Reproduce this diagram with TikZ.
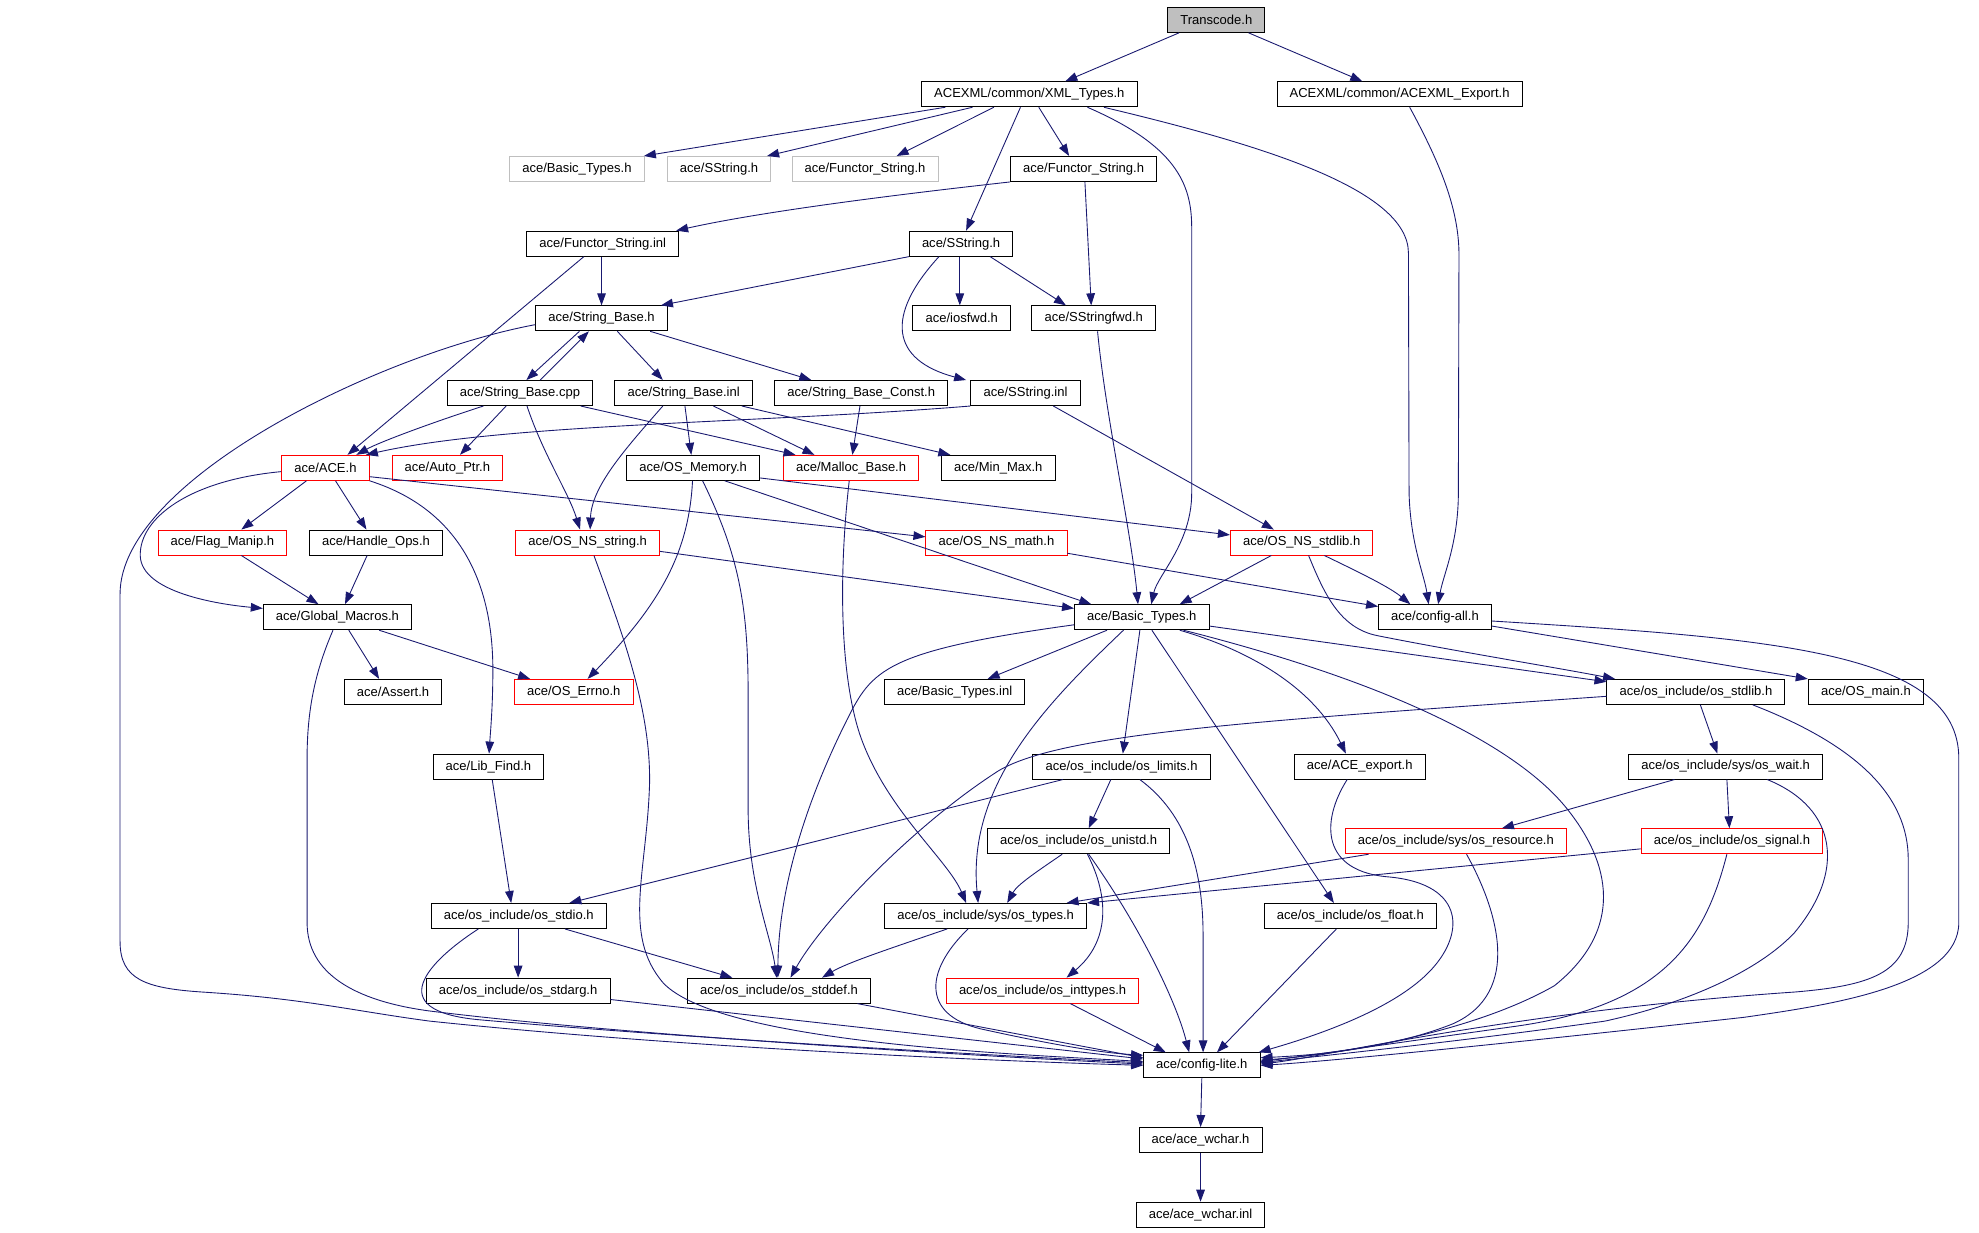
\documentclass[tikz,border=0pt]{standalone}
\usepackage{fontspec}
\setmainfont{Liberation Sans}
\usetikzlibrary{arrows.meta}
\definecolor{edgeblue}{RGB}{25,25,112}
\definecolor{graybox}{RGB}{191,191,191}
\begin{document}
\begin{tikzpicture}[x=1pt,y=-1pt,
  box/.style={draw=black,line width=0.75pt,minimum height=19.8pt,inner xsep=10pt,inner ysep=0pt,font=\fontsize{10.3}{12}\selectfont,fill=white},
  redbox/.style={box,draw=red},
  ghost/.style={box,draw=graybox},
  root/.style={box,fill=graybox},
  dep/.style={draw=edgeblue,line width=0.7pt,-{Triangle[length=9.5pt,width=6.8pt]}}]
\path[fill=white] (0,0) rectangle (1566,975);
\useasboundingbox (0,0) rectangle (1566,975);
% row 0
\node[root] (tr) at (962.5,15.7) {Transcode.h};
% row 1
\node[box] (xml) at (814.5,74.6) {ACEXML/common/XML\_Types.h};
\node[box] (exp) at (1107.5,74.6) {ACEXML/common/ACEXML\_Export.h};
% row 2
\node[ghost] (gbt) at (456.5,133.7) {ace/Basic\_Types.h};
\node[ghost] (gss) at (569,133.7) {ace/SString.h};
\node[ghost] (gfs) at (684.5,133.7) {ace/Functor\_String.h};
\node[box] (fs) at (857.5,133.7) {ace/Functor\_String.h};
% row 3
\node[box] (fsi) at (477,192.8) {ace/Functor\_String.inl};
\node[box] (ss) at (760.5,192.8) {ace/SString.h};
% row 4
\node[box] (sb) at (476,251.9) {ace/String\_Base.h};
\node[box] (iosfwd) at (761,251.9) {ace/iosfwd.h};
\node[box] (ssfwd) at (865.5,251.9) {ace/SStringfwd.h};
% row 5
\node[box] (sbcpp) at (411.5,311) {ace/String\_Base.cpp};
\node[box] (sbinl) at (541,311) {ace/String\_Base.inl};
\node[box] (sbc) at (681.5,311) {ace/String\_Base\_Const.h};
\node[box] (ssinl) at (811.5,311) {ace/SString.inl};
% row 6
\node[redbox] (ace) at (257.5,370.2) {ace/ACE.h};
\node[redbox] (ap) at (354,370.2) {ace/Auto\_Ptr.h};
\node[box] (osm) at (548.5,370.2) {ace/OS\_Memory.h};
\node[redbox] (mb) at (673.5,370.2) {ace/Malloc\_Base.h};
\node[box] (mm) at (790,370.2) {ace/Min\_Max.h};
% row 7
\node[redbox] (fm) at (176,429.3) {ace/Flag\_Manip.h};
\node[box] (ho) at (297.5,429.3) {ace/Handle\_Ops.h};
\node[redbox] (nsstr) at (465,429.3) {ace/OS\_NS\_string.h};
\node[redbox] (nsmath) at (788.5,429.3) {ace/OS\_NS\_math.h};
\node[redbox] (nsstdlib) at (1030,429.3) {ace/OS\_NS\_stdlib.h};
% row 8
\node[box] (gm) at (267,488.4) {ace/Global\_Macros.h};
\node[box] (bt) at (903.5,488.4) {ace/Basic\_Types.h};
\node[box] (ca) at (1135.5,488.4) {ace/config-all.h};
% row 9
\node[box] (as) at (311,547.5) {ace/Assert.h};
\node[redbox] (errno) at (454,547.5) {ace/OS\_Errno.h};
\node[box] (bti) at (755.5,547.5) {ace/Basic\_Types.inl};
\node[box] (stdlib) at (1342,547.5) {ace/os\_include/os\_stdlib.h};
\node[box] (main) at (1476.5,547.5) {ace/OS\_main.h};
% row 10
\node[box] (lf) at (386.5,606.6) {ace/Lib\_Find.h};
\node[box] (lim) at (887.5,606.6) {ace/os\_include/os\_limits.h};
\node[box] (aexp) at (1076,606.6) {ace/ACE\_export.h};
\node[box] (wait) at (1365.5,606.6) {ace/os\_include/sys/os\_wait.h};
% row 11
\node[box] (unistd) at (853.5,665.7) {ace/os\_include/os\_unistd.h};
\node[redbox] (res) at (1152,665.7) {ace/os\_include/sys/os\_resource.h};
\node[redbox] (sig) at (1370.5,665.7) {ace/os\_include/os\_signal.h};
% row 12
\node[box] (stdio) at (410.5,724.8) {ace/os\_include/os\_stdio.h};
\node[box] (types) at (780,724.8) {ace/os\_include/sys/os\_types.h};
\node[box] (float) at (1068.5,724.8) {ace/os\_include/os\_float.h};
% row 13
\node[box] (stdarg) at (410,783.9) {ace/os\_include/os\_stdarg.h};
\node[box] (stddef) at (616.5,783.9) {ace/os\_include/os\_stddef.h};
\node[redbox] (intt) at (825,783.9) {ace/os\_include/os\_inttypes.h};
% row 14-16
\node[box] (cl) at (951,843) {ace/config-lite.h};
\node[box] (wc) at (950,902.1) {ace/ace\_wchar.h};
\node[box] (wci) at (950,961.2) {ace/ace\_wchar.inl};

% ---- edges ----
\draw[dep] ([xshift=-29.5]tr.south) -- ([xshift=28.5]xml.north);
\draw[dep] ([xshift=25.5]tr.south) -- ([xshift=-29.5]exp.north);
\draw[dep] ([xshift=-66.5]xml.south) -- ([xshift=53]gbt.north);
\draw[dep] ([xshift=-45]xml.south) -- ([xshift=38]gss.north);
\draw[dep] ([xshift=-28]xml.south) -- ([xshift=25]gfs.north);
\draw[dep] ([xshift=7.5]xml.south) -- ([xshift=-11.5]fs.north);
\draw[dep] ([xshift=-7]xml.south) -- ([xshift=4]ss.north);
\draw[dep] ([xshift=46]xml.south) .. controls (930,115) and (943,145) .. (943,180) -- (943,390) .. controls (943,430) and (916,455) .. ([xshift=7.5]bt.north);
\draw[dep] ([xshift=59]xml.south) .. controls (1000,115) and (1114,150) .. (1114.5,200) -- (1115,390) .. controls (1116,430) and (1127,455) .. ([xshift=-5]ca.north);
\draw[dep] ([xshift=8]exp.south) .. controls (1140,130) and (1154,165) .. (1154.5,200) -- (1154,390) .. controls (1154,430) and (1142,455) .. ([xshift=2.5]ca.north);
\draw[dep] (fs.south west) .. controls (700,155) and (600,168) .. ([xshift=58]fsi.north);
\draw[dep] ([xshift=1]fs.south) -- ([xshift=-2]ssfwd.north);
\draw[dep] (ss.south west) -- ([xshift=47]sb.north);
\draw[dep] ([xshift=-1]ss.south) -- ([xshift=-1.5]iosfwd.north);
\draw[dep] ([xshift=23]ss.south) -- ([xshift=-22]ssfwd.north);
\draw[dep] ([xshift=-17.5]ss.south) .. controls (700,250) and (705,285) .. ([xshift=-47]ssinl.north);
\draw[dep] ([xshift=-1]fsi.south) -- (sb.north);
\draw[dep] ([xshift=-15]fsi.south) -- ([xshift=17.5]ace.north);
\draw[dep] ([xshift=-17.5]sb.south) -- ([xshift=5]sbcpp.north);
\draw[dep] ([xshift=16]sbcpp.north) -- ([xshift=-10]sb.south);
\draw[dep] ([xshift=12.5]sb.south) -- ([xshift=-16.5]sbinl.north);
\draw[dep] ([xshift=38.5]sb.south) -- ([xshift=-39.5]sbc.north);
\draw[dep] ([yshift=-5]sb.west) .. controls (300,280) and (95,380) .. (95,470) -- (95,745) .. controls (95,775) and (115,782) .. (160,785) .. controls (240,790) and (280,800) .. (340,808) .. controls (550,830) and (800,840) .. (cl.west);
\draw[dep] ([xshift=-29]sbcpp.south) .. controls (340,335) and (300,350) .. ([xshift=24.5]ace.north);
\draw[dep] ([xshift=-11]sbcpp.south) -- ([xshift=10]ap.north);
\draw[dep] ([xshift=5.5]sbcpp.south) .. controls (430,360) and (450,390) .. ([xshift=-6]nsstr.north);
\draw[dep] ([xshift=48]sbcpp.south) -- ([xshift=-44]mb.north);
\draw[dep] ([xshift=-16.5]sbinl.south) .. controls (495,355) and (468,385) .. ([xshift=2]nsstr.north);
\draw[dep] ([xshift=1]sbinl.south) -- ([xshift=-1.5]osm.north);
\draw[dep] ([xshift=23.5]sbinl.south) -- ([xshift=-29]mb.north);
\draw[dep] ([xshift=46]sbinl.south) -- ([xshift=-38]mm.north);
\draw[dep] ([xshift=-1]sbc.south) -- ([xshift=1]mb.north);
\draw[dep] (ssinl.south west) .. controls (600,335) and (400,335) .. ([xshift=32]ace.north);
\draw[dep] ([xshift=22]ssinl.south) -- ([xshift=-22]nsstdlib.north);
\draw[dep] ([yshift=-3]ace.west) .. controls (150,380) and (110,410) .. (111,440) .. controls (112,468) and (170,478) .. ([yshift=7]gm.west);
\draw[dep] ([xshift=-15]ace.south) -- ([xshift=15]fm.north);
\draw[dep] ([xshift=8]ace.south) -- ([xshift=-7.5]ho.north);
\draw[dep] (ace.south east) .. controls (370,405) and (390,470) .. (390,530) .. controls (390,560) and (388,580) .. ([xshift=0.5]lf.north);
\draw[dep] ([yshift=-7]ace.east) -- ([yshift=4.5]nsmath.west);
\draw[dep] ([xshift=15]fm.south) -- ([xshift=-15]gm.north);
\draw[dep] ([xshift=-7]ho.south) -- ([xshift=6]gm.north);
\draw[dep] ([xshift=-0.5]osm.south) .. controls (545,440) and (520,480) .. ([xshift=11]errno.north);
\draw[dep] ([xshift=7.5]osm.south) .. controls (585,440) and (592,480) .. (592,550) -- (592,640) .. controls (592,700) and (610,740) .. ([xshift=-2]stddef.north);
\draw[dep] ([xshift=25]osm.south) -- ([xshift=-40]bt.north);
\draw[dep] ([yshift=-8]osm.east) -- ([yshift=6]nsstdlib.west);
\draw[dep] ([xshift=-1.5]mb.south) .. controls (664,450) and (664,530) .. (680,580) .. controls (700,640) and (750,680) .. ([xshift=-15.5]types.north);
\draw[dep] ([yshift=-7]nsstr.east) -- ([yshift=7]bt.west);
\draw[dep] ([xshift=5]nsstr.south) .. controls (492,500) and (515,560) .. (514,620) .. controls (512,690) and (492,740) .. (525,778) .. controls (570,825) and (800,834) .. ([yshift=3]cl.west);
\draw[dep] ([yshift=-8.5]nsmath.east) -- ([yshift=8.5]ca.west);
\draw[dep] ([xshift=-24]nsstdlib.south) -- ([xshift=30]bt.north);
\draw[dep] ([xshift=18]nsstdlib.south) .. controls (1080,455) and (1100,465) .. ([xshift=-19.5]ca.north);
\draw[dep] ([xshift=5.5]nsstdlib.south) .. controls (1048,470) and (1060,497) .. (1090,503) .. controls (1150,515) and (1230,528) .. ([xshift=-64]stdlib.north);
\draw[dep] ([yshift=-7]bt.east) -- ([yshift=8]stdlib.west);
\draw[dep] ([xshift=-27.5]bt.south) -- ([xshift=26]bti.north);
\draw[dep] ([xshift=-1.5]bt.south) -- ([xshift=1]lim.north);
\draw[dep] ([xshift=30]bt.south) .. controls (990,515) and (1040,545) .. ([xshift=-11]aexp.north);
\draw[dep] ([xshift=33]bt.south) .. controls (1100,540) and (1200,590) .. (1240,640) .. controls (1280,690) and (1280,740) .. (1230,780) .. controls (1160,820) and (1050,835) .. ([yshift=4]cl.east);
\draw[dep] ([yshift=-6]bt.west) .. controls (700,515) and (690,530) .. (670,570) .. controls (640,630) and (616,700) .. ([xshift=-1]stddef.north);
\draw[dep] ([xshift=-14.5]bt.south) .. controls (830,555) and (765,620) .. ([xshift=-6]types.north);
\draw[dep] ([xshift=8]bt.south) -- ([xshift=-13]float.north);
\draw[dep] ([yshift=-3.5]stdlib.west) .. controls (1000,570) and (840,580) .. (790,610) .. controls (720,655) and (650,730) .. ([xshift=9]stddef.north);
\draw[dep] ([xshift=3.5]stdlib.south) -- ([xshift=-6.5]wait.north);
\draw[dep] ([xshift=45]stdlib.south) .. controls (1470,590) and (1510,630) .. (1510,680) -- (1510,730) .. controls (1510,770) and (1480,780) .. (1420,785) .. controls (1200,800) and (1050,836) .. ([yshift=1]cl.east);
\draw[dep] ([yshift=-7]ca.east) -- ([xshift=-46]main.north);
\draw[dep] ([yshift=-3]ca.east) .. controls (1400,505) and (1550,515) .. (1550,600) -- (1550,730) .. controls (1550,780) and (1450,795) .. (1380,805) .. controls (1200,825) and (1050,840) .. (cl.east);
\draw[dep] ([xshift=3]lf.south) -- ([xshift=-6]stdio.north);
\draw[dep] ([xshift=-46.5]lim.south) -- ([xshift=40]stdio.north);
\draw[dep] ([xshift=-8.5]lim.south) -- ([xshift=8]unistd.north);
\draw[dep] ([xshift=14.5]lim.south) .. controls (940,645) and (952,690) .. (952,740) -- ([xshift=1]cl.north);
\draw[dep] ([xshift=-10]aexp.south) .. controls (1045,650) and (1045,690) .. (1100,694) .. controls (1160,700) and (1160,740) .. (1130,770) .. controls (1100,800) and (1040,820) .. ([xshift=45]cl.north);
\draw[dep] ([xshift=-40.5]wait.south) -- ([xshift=36.5]res.north);
\draw[dep] ([xshift=1]wait.south) -- ([xshift=-2]sig.north);
\draw[dep] ([xshift=33]wait.south) .. controls (1455,640) and (1460,690) .. (1420,738) .. controls (1390,770) and (1330,795) .. (1270,808) .. controls (1150,825) and (1040,836) .. ([yshift=2]cl.east);
\draw[dep] ([xshift=-13]unistd.south) .. controls (820,690) and (805,700) .. ([xshift=17]types.north);
\draw[dep] ([xshift=7]unistd.south) .. controls (878,710) and (878,745) .. ([xshift=19]intt.north);
\draw[dep] ([xshift=8]unistd.south) .. controls (900,730) and (930,790) .. ([xshift=-10]cl.north);
\draw[dep] ([xshift=-69]res.south) -- ([xshift=64]types.north);
\draw[dep] ([xshift=8.5]res.south) .. controls (1185,720) and (1205,785) .. (1150,810) .. controls (1100,830) and (1040,835) .. ([yshift=6]cl.east);
\draw[dep] ([yshift=-6]sig.west) -- (types.north east);
\draw[dep] ([xshift=-4]sig.south) .. controls (1350,740) and (1320,795) .. (1200,812) .. controls (1100,826) and (1030,836) .. ([yshift=3]cl.east);
\draw[dep] ([xshift=-0.5]stdio.south) -- (stdarg.north);
\draw[dep] ([xshift=36.5]stdio.south) -- ([xshift=-37]stddef.north);
\draw[dep] ([xshift=-32]stdio.south) .. controls (340,760) and (300,800) .. (380,807) .. controls (550,822) and (800,836) .. ([yshift=2]cl.west);
\draw[dep] ([xshift=-30.5]types.south) .. controls (700,752) and (670,762) .. ([xshift=34]stddef.north);
\draw[dep] ([xshift=-14]types.south) .. controls (730,770) and (730,805) .. (780,815) .. controls (830,826) and (870,833) .. ([yshift=8]cl.west);
\draw[dep] ([xshift=-11]float.south) -- ([xshift=12]cl.north);
\draw[dep] ([yshift=-7]stdarg.east) -- ([yshift=5]cl.west);
\draw[dep] ([xshift=62]stddef.south) -- ([yshift=6]cl.west);
\draw[dep] ([xshift=22]intt.south) -- ([xshift=-28.5]cl.north);
\draw[dep] (cl.south) -- (wc.north);
\draw[dep] (wc.south) -- (wci.north);
\draw[dep] ([xshift=-3.5]gm.south) .. controls (250,530) and (243,560) .. (243,600) -- (243,730) .. controls (243,770) and (280,792) .. (340,800) .. controls (500,820) and (800,837) .. ([yshift=1]cl.west);
\draw[dep] ([xshift=9]gm.south) -- ([xshift=-11]as.north);
\draw[dep] ([xshift=33]gm.south) -- ([xshift=-34.5]errno.north);
\draw[dep] ([xshift=3]ssfwd.south) .. controls (875,330) and (895,420) .. ([xshift=-3]bt.north);
\end{tikzpicture}
\end{document}
